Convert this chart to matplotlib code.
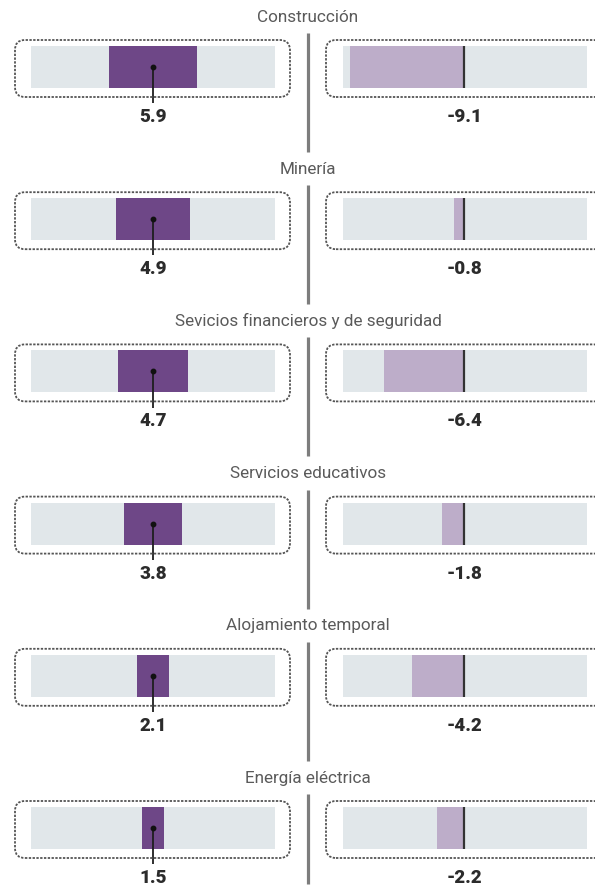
import matplotlib
matplotlib.use("Agg")
import matplotlib.pyplot as plt
from matplotlib.patches import FancyBboxPatch
from matplotlib.lines import Line2D

categories = ["Construcción", "Minería", "Sevicios financieros y de seguridad",
              "Servicios educativos", "Alojamiento temporal", "Energía eléctrica"]
left_values = [5.9, 4.9, 4.7, 3.8, 2.1, 1.5]
right_values = [-9.1, -0.8, -6.4, -1.8, -4.2, -2.2]
left_labels = ["5.9", "4.9", "4.7", "3.8", "2.1", "1.5"]
right_labels = ["-9.1", "-0.8", "-6.4", "-1.8", "-4.2", "-2.2"]

DARK = "#6e4787"
LIGHT = "#bdadc9"
GRAY = "#e1e7ea"
TXT = "#2b2b2b"
TITLE = "#5a5a5a"
BOX = "#555555"
SEP = "#7d7d7d"

FONT = ["Roboto", "DejaVu Sans"]
plt.rcParams["font.family"] = FONT

W, H = 595, 888
fig = plt.figure(figsize=(W / 100, H / 100), dpi=100)
fig.patch.set_facecolor("white")

def fx(px):
    return px / W

def fy(py):
    return 1 - py / H

STEP = 152.2
for i, cat in enumerate(categories):
    yc = 67 + i * STEP
    # title
    fig.text(fx(308), fy(yc - 50), cat, ha="center", va="center",
             fontsize=12.3, fontweight="normal", color=TITLE)
    # separator
    fig.add_artist(Line2D([fx(307.5)] * 2, [fy(yc - 34), fy(min(yc + 85, H - 4))],
                          transform=fig.transFigure, color=SEP, lw=2.3,
                          solid_capstyle="butt"))
    # boxes
    for x0, x1 in [(15, 290), (326, 604)]:
        box = FancyBboxPatch(((x0) / 100, (H - (yc + 30)) / 100),
                             (x1 - x0) / 100, 57 / 100,
                             boxstyle="round,pad=0,rounding_size=0.1",
                             transform=fig.dpi_scale_trans, fill=False,
                             edgecolor=BOX, lw=1.3, linestyle=(0, (1.3, 0.8)))
        fig.add_artist(box)

    # left axes
    axL = fig.add_axes([fx(31), fy(yc + 21), 244 / W, 42 / H])
    axL.set_xlim(-8.13, 8.13)
    axL.set_ylim(-0.5, 0.5)
    axL.set_facecolor(GRAY)
    v = left_values[i]
    axL.barh(0, v, left=-v / 2, height=1, color=DARK)
    axL.plot([0, 0], [0, -0.86], color="#1e1e1e", lw=1.3, clip_on=False,
             solid_capstyle="butt")
    axL.plot([0], [0], "o", color="#111111", ms=3.2, clip_on=False)
    axL.text(0, -1.19, left_labels[i], ha="center", va="center",
             fontsize=13.5, fontweight="heavy", color=TXT, clip_on=False)

    # right axes
    axR = fig.add_axes([fx(343), fy(yc + 21), 244 / W, 42 / H])
    axR.set_xlim(-9.7, 9.85)
    axR.set_ylim(-0.5, 0.5)
    axR.set_facecolor(GRAY)
    r = right_values[i]
    axR.barh(0, r, left=0, height=1, color=LIGHT)
    axR.axvline(0, color="#333333", lw=1.6)
    axR.text(0, -1.19, right_labels[i], ha="center", va="center",
             fontsize=13.5, fontweight="heavy", color=TXT, clip_on=False)

    for ax in (axL, axR):
        ax.set_xticks([])
        ax.set_yticks([])
        for s in ax.spines.values():
            s.set_visible(False)

fig.savefig("out.png", dpi=100, facecolor="white")
